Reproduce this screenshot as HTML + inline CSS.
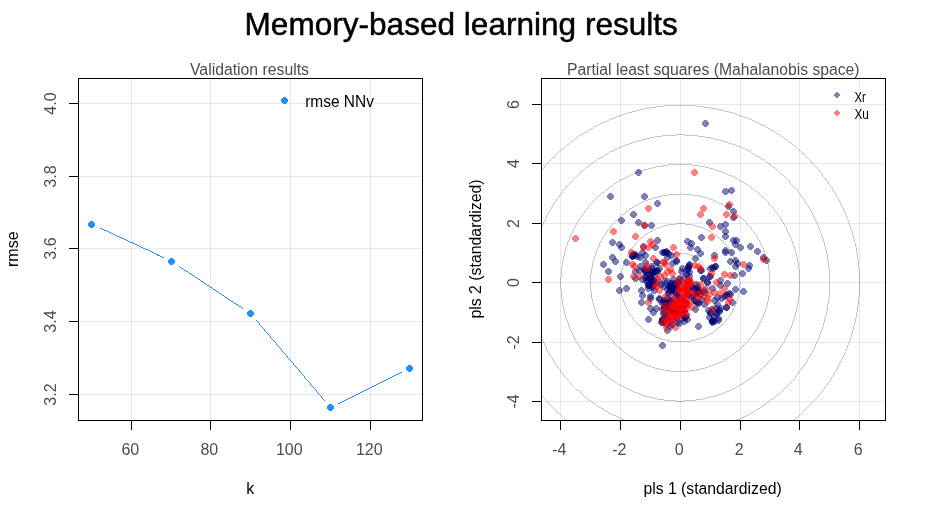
<!DOCTYPE html>
<html lang="en"><head><meta charset="utf-8"><title>Memory-based learning results</title>
<style>html,body{margin:0;padding:0;background:#fff;width:926px;height:518px;overflow:hidden}svg{display:block}text{font-family:"Liberation Sans",Arial,sans-serif}</style></head><body>
<svg width="926" height="518" viewBox="0 0 926 518">
<rect width="926" height="518" fill="#fff"/>
<defs><path id="d" d="M-1.5-3.5H1.5V-2.5H2.5V-1.5H3.5V1.5H2.5V2.5H1.5V3.5H-1.5V2.5H-2.5V1.5H-3.5V-1.5H-2.5V-2.5H-1.5Z"/><path id="e" d="M-1-3H1V-2H2V-1H3V1H2V2H1V3H-1V2H-2V1H-3V-1H-2V-2H-1Z"/></defs>
<text x="461.2" y="34.5" font-size="32" text-anchor="middle" fill="#000" stroke="#000" stroke-width="0.5" textLength="433.3" lengthAdjust="spacingAndGlyphs">Memory-based learning results</text>
<g shape-rendering="crispEdges" stroke-width="1" fill="none">
<line x1="131.5" y1="78.5" x2="131.5" y2="420.5" stroke="#000" stroke-opacity="0.085"/>
<line x1="210.5" y1="78.5" x2="210.5" y2="420.5" stroke="#000" stroke-opacity="0.085"/>
<line x1="290.5" y1="78.5" x2="290.5" y2="420.5" stroke="#000" stroke-opacity="0.085"/>
<line x1="370.5" y1="78.5" x2="370.5" y2="420.5" stroke="#000" stroke-opacity="0.085"/>
<line x1="78.5" y1="103.5" x2="422.5" y2="103.5" stroke="#000" stroke-opacity="0.085"/>
<line x1="78.5" y1="176.5" x2="422.5" y2="176.5" stroke="#000" stroke-opacity="0.085"/>
<line x1="78.5" y1="248.5" x2="422.5" y2="248.5" stroke="#000" stroke-opacity="0.085"/>
<line x1="78.5" y1="321.5" x2="422.5" y2="321.5" stroke="#000" stroke-opacity="0.085"/>
<line x1="78.5" y1="394.5" x2="422.5" y2="394.5" stroke="#000" stroke-opacity="0.085"/>
</g>
<line x1="99.5" y1="228.2" x2="163.5" y2="257.8" stroke="#1e90ff" stroke-width="0.99" shape-rendering="crispEdges"/>
<line x1="178.9" y1="266.3" x2="243.1" y2="308.7" stroke="#1e90ff" stroke-width="0.99" shape-rendering="crispEdges"/>
<line x1="256.2" y1="320.2" x2="324.8" y2="400.8" stroke="#1e90ff" stroke-width="0.99" shape-rendering="crispEdges"/>
<line x1="338.4" y1="403.6" x2="401.6" y2="372.4" stroke="#1e90ff" stroke-width="0.99" shape-rendering="crispEdges"/>
<use href="#d" x="91.5" y="224.5" fill="#1e90ff" shape-rendering="crispEdges"/>
<use href="#d" x="171.5" y="261.5" fill="#1e90ff" shape-rendering="crispEdges"/>
<use href="#d" x="250.5" y="313.5" fill="#1e90ff" shape-rendering="crispEdges"/>
<use href="#d" x="330.5" y="407.5" fill="#1e90ff" shape-rendering="crispEdges"/>
<use href="#d" x="409.5" y="368.5" fill="#1e90ff" shape-rendering="crispEdges"/>
<use href="#d" x="284.5" y="100.5" fill="#1e90ff" shape-rendering="crispEdges"/>
<text x="305.2" y="107" font-size="16" fill="#000" textLength="68.7" lengthAdjust="spacingAndGlyphs">rmse NNv</text>
<g shape-rendering="crispEdges" stroke="#000" stroke-width="1" fill="none">
<rect x="78.5" y="78.5" width="344.0" height="342.0"/>
<line x1="131.5" y1="420.5" x2="131.5" y2="429.5"/>
<line x1="210.5" y1="420.5" x2="210.5" y2="429.5"/>
<line x1="290.5" y1="420.5" x2="290.5" y2="429.5"/>
<line x1="370.5" y1="420.5" x2="370.5" y2="429.5"/>
<line x1="68.5" y1="103.5" x2="78.5" y2="103.5"/>
<line x1="68.5" y1="176.5" x2="78.5" y2="176.5"/>
<line x1="68.5" y1="248.5" x2="78.5" y2="248.5"/>
<line x1="68.5" y1="321.5" x2="78.5" y2="321.5"/>
<line x1="68.5" y1="394.5" x2="78.5" y2="394.5"/>
</g>
<text x="130.3" y="455" font-size="16" text-anchor="middle" fill="#4d4d4d">60</text>
<text x="209.3" y="455" font-size="16" text-anchor="middle" fill="#4d4d4d">80</text>
<text x="289.3" y="455" font-size="16" text-anchor="middle" fill="#4d4d4d">100</text>
<text x="369.3" y="455" font-size="16" text-anchor="middle" fill="#4d4d4d">120</text>
<text transform="translate(56,103.5) rotate(-90)" font-size="16" text-anchor="middle" fill="#4d4d4d">4.0</text>
<text transform="translate(56,176.5) rotate(-90)" font-size="16" text-anchor="middle" fill="#4d4d4d">3.8</text>
<text transform="translate(56,248.5) rotate(-90)" font-size="16" text-anchor="middle" fill="#4d4d4d">3.6</text>
<text transform="translate(56,321.5) rotate(-90)" font-size="16" text-anchor="middle" fill="#4d4d4d">3.4</text>
<text transform="translate(56,394.5) rotate(-90)" font-size="16" text-anchor="middle" fill="#4d4d4d">3.2</text>
<text x="249.5" y="75" font-size="16" text-anchor="middle" fill="#4d4d4d" textLength="119" lengthAdjust="spacingAndGlyphs">Validation results</text>
<text x="250.3" y="494" font-size="16" text-anchor="middle" fill="#000">k</text>
<text transform="translate(18.2,249.2) rotate(-90)" font-size="16" text-anchor="middle" fill="#000">rmse</text>
<clipPath id="c2"><rect x="541.5" y="78.5" width="344.0" height="342.0"/></clipPath>
<g shape-rendering="crispEdges" stroke-width="1" fill="none">
<line x1="560.5" y1="78.5" x2="560.5" y2="420.5" stroke="#000" stroke-opacity="0.085"/>
<line x1="620.5" y1="78.5" x2="620.5" y2="420.5" stroke="#000" stroke-opacity="0.085"/>
<line x1="680.5" y1="78.5" x2="680.5" y2="420.5" stroke="#000" stroke-opacity="0.085"/>
<line x1="740.5" y1="78.5" x2="740.5" y2="420.5" stroke="#000" stroke-opacity="0.085"/>
<line x1="799.5" y1="78.5" x2="799.5" y2="420.5" stroke="#000" stroke-opacity="0.085"/>
<line x1="859.5" y1="78.5" x2="859.5" y2="420.5" stroke="#000" stroke-opacity="0.085"/>
<line x1="541.5" y1="401.5" x2="885.5" y2="401.5" stroke="#000" stroke-opacity="0.085"/>
<line x1="541.5" y1="342.5" x2="885.5" y2="342.5" stroke="#000" stroke-opacity="0.085"/>
<line x1="541.5" y1="282.5" x2="885.5" y2="282.5" stroke="#000" stroke-opacity="0.085"/>
<line x1="541.5" y1="223.5" x2="885.5" y2="223.5" stroke="#000" stroke-opacity="0.085"/>
<line x1="541.5" y1="163.5" x2="885.5" y2="163.5" stroke="#000" stroke-opacity="0.085"/>
<line x1="541.5" y1="104.5" x2="885.5" y2="104.5" stroke="#000" stroke-opacity="0.085"/>
</g>
<g clip-path="url(#c2)">
<g fill="#000070" fill-opacity="0.5" shape-rendering="crispEdges">
<use href="#d" x="705.5" y="123.5"/>
<use href="#d" x="638.5" y="172.5"/>
<use href="#d" x="610.5" y="196.5"/>
<use href="#d" x="644.5" y="196.5"/>
<use href="#d" x="657.5" y="203.5"/>
<use href="#d" x="633.5" y="214.5"/>
<use href="#d" x="725.5" y="191.5"/>
<use href="#d" x="731.5" y="190.5"/>
<use href="#d" x="728.5" y="206.5"/>
<use href="#d" x="733.5" y="211.5"/>
<use href="#d" x="621.5" y="220.5"/>
<use href="#d" x="638.5" y="222.5"/>
<use href="#d" x="651.5" y="225.5"/>
<use href="#d" x="644.5" y="225.5"/>
<use href="#d" x="612.5" y="242.5"/>
<use href="#d" x="619.5" y="244.5"/>
<use href="#d" x="621.5" y="247.5"/>
<use href="#d" x="612.5" y="257.5"/>
<use href="#d" x="615.5" y="261.5"/>
<use href="#d" x="603.5" y="264.5"/>
<use href="#d" x="657.5" y="240.5"/>
<use href="#d" x="655.5" y="247.5"/>
<use href="#d" x="643.5" y="246.5"/>
<use href="#d" x="687.5" y="241.5"/>
<use href="#d" x="632.5" y="255.5"/>
<use href="#d" x="632.5" y="256.5"/>
<use href="#d" x="637.5" y="256.5"/>
<use href="#d" x="640.5" y="257.5"/>
<use href="#d" x="642.5" y="252.5"/>
<use href="#d" x="645.5" y="255.5"/>
<use href="#d" x="626.5" y="262.5"/>
<use href="#d" x="645.5" y="262.5"/>
<use href="#d" x="662.5" y="252.5"/>
<use href="#d" x="666.5" y="252.5"/>
<use href="#d" x="666.5" y="251.5"/>
<use href="#d" x="668.5" y="253.5"/>
<use href="#d" x="671.5" y="255.5"/>
<use href="#d" x="667.5" y="257.5"/>
<use href="#d" x="676.5" y="260.5"/>
<use href="#d" x="676.5" y="261.5"/>
<use href="#d" x="672.5" y="263.5"/>
<use href="#d" x="657.5" y="262.5"/>
<use href="#d" x="656.5" y="262.5"/>
<use href="#d" x="651.5" y="266.5"/>
<use href="#d" x="640.5" y="266.5"/>
<use href="#d" x="709.5" y="222.5"/>
<use href="#d" x="720.5" y="226.5"/>
<use href="#d" x="725.5" y="224.5"/>
<use href="#d" x="725.5" y="231.5"/>
<use href="#d" x="725.5" y="236.5"/>
<use href="#d" x="701.5" y="237.5"/>
<use href="#d" x="733.5" y="240.5"/>
<use href="#d" x="736.5" y="240.5"/>
<use href="#d" x="735.5" y="244.5"/>
<use href="#d" x="740.5" y="247.5"/>
<use href="#d" x="750.5" y="246.5"/>
<use href="#d" x="757.5" y="251.5"/>
<use href="#d" x="763.5" y="257.5"/>
<use href="#d" x="766.5" y="260.5"/>
<use href="#d" x="691.5" y="243.5"/>
<use href="#d" x="690.5" y="247.5"/>
<use href="#d" x="697.5" y="249.5"/>
<use href="#d" x="700.5" y="253.5"/>
<use href="#d" x="695.5" y="258.5"/>
<use href="#d" x="725.5" y="250.5"/>
<use href="#d" x="725.5" y="252.5"/>
<use href="#d" x="731.5" y="252.5"/>
<use href="#d" x="714.5" y="255.5"/>
<use href="#d" x="730.5" y="261.5"/>
<use href="#d" x="735.5" y="260.5"/>
<use href="#d" x="737.5" y="263.5"/>
<use href="#d" x="749.5" y="265.5"/>
<use href="#d" x="715.5" y="266.5"/>
<use href="#d" x="715.5" y="266.5"/>
<use href="#d" x="688.5" y="266.5"/>
<use href="#d" x="733.5" y="217.5"/>
<use href="#d" x="608.5" y="271.5"/>
<use href="#d" x="620.5" y="276.5"/>
<use href="#d" x="619.5" y="290.5"/>
<use href="#d" x="626.5" y="288.5"/>
<use href="#d" x="641.5" y="290.5"/>
<use href="#d" x="642.5" y="295.5"/>
<use href="#d" x="641.5" y="302.5"/>
<use href="#d" x="650.5" y="296.5"/>
<use href="#d" x="650.5" y="298.5"/>
<use href="#d" x="650.5" y="308.5"/>
<use href="#d" x="656.5" y="308.5"/>
<use href="#d" x="653.5" y="312.5"/>
<use href="#d" x="648.5" y="319.5"/>
<use href="#d" x="659.5" y="299.5"/>
<use href="#d" x="663.5" y="313.5"/>
<use href="#d" x="635.5" y="271.5"/>
<use href="#d" x="639.5" y="270.5"/>
<use href="#d" x="645.5" y="272.5"/>
<use href="#d" x="649.5" y="270.5"/>
<use href="#d" x="654.5" y="271.5"/>
<use href="#d" x="657.5" y="270.5"/>
<use href="#d" x="645.5" y="277.5"/>
<use href="#d" x="642.5" y="279.5"/>
<use href="#d" x="649.5" y="278.5"/>
<use href="#d" x="654.5" y="276.5"/>
<use href="#d" x="647.5" y="282.5"/>
<use href="#d" x="652.5" y="281.5"/>
<use href="#d" x="648.5" y="285.5"/>
<use href="#d" x="653.5" y="285.5"/>
<use href="#d" x="657.5" y="282.5"/>
<use href="#d" x="648.5" y="288.5"/>
<use href="#d" x="654.5" y="290.5"/>
<use href="#d" x="635.5" y="278.5"/>
<use href="#d" x="682.5" y="268.5"/>
<use href="#d" x="686.5" y="270.5"/>
<use href="#d" x="681.5" y="271.5"/>
<use href="#d" x="686.5" y="274.5"/>
<use href="#d" x="700.5" y="270.5"/>
<use href="#d" x="710.5" y="268.5"/>
<use href="#d" x="703.5" y="278.5"/>
<use href="#d" x="707.5" y="282.5"/>
<use href="#d" x="710.5" y="276.5"/>
<use href="#d" x="720.5" y="280.5"/>
<use href="#d" x="720.5" y="285.5"/>
<use href="#d" x="673.5" y="279.5"/>
<use href="#d" x="679.5" y="278.5"/>
<use href="#d" x="670.5" y="283.5"/>
<use href="#d" x="671.5" y="284.5"/>
<use href="#d" x="672.5" y="287.5"/>
<use href="#d" x="672.5" y="288.5"/>
<use href="#d" x="670.5" y="290.5"/>
<use href="#d" x="677.5" y="283.5"/>
<use href="#d" x="661.5" y="284.5"/>
<use href="#d" x="692.5" y="287.5"/>
<use href="#d" x="693.5" y="288.5"/>
<use href="#d" x="717.5" y="297.5"/>
<use href="#d" x="721.5" y="298.5"/>
<use href="#d" x="659.5" y="298.5"/>
<use href="#d" x="680.5" y="298.5"/>
<use href="#d" x="667.5" y="298.5"/>
<use href="#d" x="664.5" y="281.5"/>
<use href="#d" x="663.5" y="286.5"/>
<use href="#d" x="742.5" y="273.5"/>
<use href="#d" x="748.5" y="268.5"/>
<use href="#d" x="735.5" y="266.5"/>
<use href="#d" x="734.5" y="275.5"/>
<use href="#d" x="727.5" y="283.5"/>
<use href="#d" x="735.5" y="289.5"/>
<use href="#d" x="743.5" y="291.5"/>
<use href="#d" x="729.5" y="293.5"/>
<use href="#d" x="730.5" y="294.5"/>
<use href="#d" x="732.5" y="302.5"/>
<use href="#d" x="726.5" y="307.5"/>
<use href="#d" x="726.5" y="307.5"/>
<use href="#d" x="724.5" y="296.5"/>
<use href="#d" x="703.5" y="278.5"/>
<use href="#d" x="707.5" y="282.5"/>
<use href="#d" x="709.5" y="276.5"/>
<use href="#d" x="701.5" y="270.5"/>
<use href="#d" x="662.5" y="319.5"/>
<use href="#d" x="661.5" y="322.5"/>
<use href="#d" x="667.5" y="330.5"/>
<use href="#d" x="670.5" y="326.5"/>
<use href="#d" x="677.5" y="322.5"/>
<use href="#d" x="679.5" y="323.5"/>
<use href="#d" x="687.5" y="319.5"/>
<use href="#d" x="695.5" y="309.5"/>
<use href="#d" x="698.5" y="326.5"/>
<use href="#d" x="696.5" y="302.5"/>
<use href="#d" x="698.5" y="302.5"/>
<use href="#d" x="712.5" y="320.5"/>
<use href="#d" x="712.5" y="321.5"/>
<use href="#d" x="709.5" y="317.5"/>
<use href="#d" x="708.5" y="310.5"/>
<use href="#d" x="717.5" y="304.5"/>
<use href="#d" x="719.5" y="310.5"/>
<use href="#d" x="719.5" y="311.5"/>
<use href="#d" x="716.5" y="314.5"/>
<use href="#d" x="712.5" y="309.5"/>
<use href="#d" x="677.5" y="309.5"/>
<use href="#d" x="678.5" y="309.5"/>
<use href="#d" x="685.5" y="304.5"/>
<use href="#d" x="694.5" y="300.5"/>
<use href="#d" x="662.5" y="345.5"/>
<use href="#d" x="668.5" y="306.5"/>
<use href="#d" x="672.5" y="310.5"/>
<use href="#d" x="666.5" y="316.5"/>
<use href="#d" x="676.5" y="318.5"/>
<use href="#d" x="680.5" y="310.5"/>
<use href="#d" x="684.5" y="296.5"/>
<use href="#d" x="676.5" y="294.5"/>
<use href="#d" x="668.5" y="294.5"/>
<use href="#d" x="690.5" y="296.5"/>
<use href="#d" x="696.5" y="284.5"/>
<use href="#d" x="698.5" y="290.5"/>
<use href="#d" x="704.5" y="292.5"/>
<use href="#d" x="712.5" y="288.5"/>
<use href="#d" x="714.5" y="300.5"/>
<use href="#d" x="704.5" y="304.5"/>
<use href="#d" x="664.5" y="300.5"/>
<use href="#d" x="666.5" y="302.5"/>
<use href="#d" x="670.5" y="300.5"/>
<use href="#d" x="674.5" y="298.5"/>
<use href="#d" x="678.5" y="296.5"/>
<use href="#d" x="682.5" y="300.5"/>
<use href="#d" x="686.5" y="302.5"/>
<use href="#d" x="664.5" y="308.5"/>
<use href="#d" x="668.5" y="312.5"/>
<use href="#d" x="672.5" y="308.5"/>
<use href="#d" x="676.5" y="306.5"/>
<use href="#d" x="680.5" y="308.5"/>
<use href="#d" x="684.5" y="310.5"/>
<use href="#d" x="666.5" y="318.5"/>
<use href="#d" x="670.5" y="320.5"/>
<use href="#d" x="674.5" y="316.5"/>
<use href="#d" x="678.5" y="314.5"/>
<use href="#d" x="682.5" y="318.5"/>
<use href="#d" x="662.5" y="322.5"/>
<use href="#d" x="666.5" y="324.5"/>
<use href="#d" x="672.5" y="324.5"/>
<use href="#d" x="680.5" y="302.5"/>
<use href="#d" x="684.5" y="304.5"/>
<use href="#d" x="678.5" y="310.5"/>
<use href="#d" x="674.5" y="304.5"/>
<use href="#d" x="688.5" y="294.5"/>
<use href="#d" x="692.5" y="296.5"/>
<use href="#d" x="696.5" y="292.5"/>
<use href="#d" x="700.5" y="294.5"/>
<use href="#d" x="704.5" y="290.5"/>
<use href="#d" x="688.5" y="290.5"/>
<use href="#d" x="684.5" y="288.5"/>
<use href="#d" x="668.5" y="286.5"/>
<use href="#d" x="670.5" y="288.5"/>
<use href="#d" x="674.5" y="284.5"/>
<use href="#d" x="668.5" y="292.5"/>
<use href="#d" x="672.5" y="290.5"/>
<use href="#d" x="676.5" y="288.5"/>
<use href="#d" x="710.5" y="312.5"/>
<use href="#d" x="714.5" y="316.5"/>
<use href="#d" x="716.5" y="312.5"/>
<use href="#d" x="718.5" y="318.5"/>
<use href="#d" x="712.5" y="322.5"/>
<use href="#d" x="716.5" y="308.5"/>
<use href="#d" x="646.5" y="271.5"/>
<use href="#d" x="651.5" y="272.5"/>
<use href="#d" x="655.5" y="271.5"/>
<use href="#d" x="650.5" y="276.5"/>
<use href="#d" x="646.5" y="280.5"/>
<use href="#d" x="653.5" y="280.5"/>
<use href="#d" x="632.5" y="256.5"/>
<use href="#d" x="633.5" y="254.5"/>
<use href="#d" x="635.5" y="254.5"/>
<use href="#d" x="634.5" y="255.5"/>
<use href="#d" x="664.5" y="252.5"/>
<use href="#d" x="664.5" y="252.5"/>
<use href="#d" x="644.5" y="269.5"/>
<use href="#d" x="650.5" y="278.5"/>
<use href="#d" x="645.5" y="270.5"/>
<use href="#d" x="653.5" y="280.5"/>
<use href="#d" x="652.5" y="273.5"/>
<use href="#d" x="659.5" y="268.5"/>
<use href="#d" x="657.5" y="271.5"/>
<use href="#d" x="645.5" y="269.5"/>
<use href="#d" x="648.5" y="278.5"/>
<use href="#d" x="646.5" y="275.5"/>
<use href="#d" x="653.5" y="272.5"/>
<use href="#d" x="652.5" y="268.5"/>
<use href="#d" x="667.5" y="281.5"/>
<use href="#d" x="676.5" y="285.5"/>
<use href="#d" x="671.5" y="287.5"/>
<use href="#d" x="673.5" y="283.5"/>
<use href="#d" x="678.5" y="289.5"/>
<use href="#d" x="670.5" y="287.5"/>
<use href="#d" x="674.5" y="292.5"/>
<use href="#d" x="677.5" y="282.5"/>
<use href="#d" x="680.5" y="280.5"/>
<use href="#d" x="672.5" y="290.5"/>
<use href="#d" x="669.5" y="286.5"/>
<use href="#d" x="667.5" y="289.5"/>
<use href="#d" x="677.5" y="287.5"/>
<use href="#d" x="679.5" y="283.5"/>
<use href="#d" x="676.5" y="288.5"/>
<use href="#d" x="675.5" y="285.5"/>
<use href="#d" x="678.5" y="294.5"/>
<use href="#d" x="673.5" y="289.5"/>
<use href="#d" x="648.5" y="285.5"/>
<use href="#d" x="652.5" y="287.5"/>
<use href="#d" x="653.5" y="282.5"/>
<use href="#d" x="650.5" y="285.5"/>
<use href="#d" x="688.5" y="267.5"/>
<use href="#d" x="689.5" y="264.5"/>
<use href="#d" x="688.5" y="269.5"/>
<use href="#d" x="689.5" y="265.5"/>
<use href="#d" x="713.5" y="268.5"/>
<use href="#d" x="712.5" y="267.5"/>
<use href="#d" x="714.5" y="321.5"/>
<use href="#d" x="718.5" y="320.5"/>
<use href="#d" x="710.5" y="313.5"/>
<use href="#d" x="712.5" y="321.5"/>
<use href="#d" x="720.5" y="308.5"/>
<use href="#d" x="726.5" y="294.5"/>
<use href="#d" x="726.5" y="295.5"/>
<use href="#d" x="677.5" y="305.5"/>
<use href="#d" x="662.5" y="309.5"/>
<use href="#d" x="671.5" y="312.5"/>
<use href="#d" x="686.5" y="315.5"/>
<use href="#d" x="675.5" y="313.5"/>
<use href="#d" x="679.5" y="301.5"/>
<use href="#d" x="685.5" y="317.5"/>
<use href="#d" x="684.5" y="317.5"/>
<use href="#d" x="672.5" y="308.5"/>
<use href="#d" x="664.5" y="313.5"/>
<use href="#d" x="663.5" y="301.5"/>
<use href="#d" x="667.5" y="303.5"/>
<use href="#d" x="670.5" y="301.5"/>
<use href="#d" x="662.5" y="303.5"/>
<use href="#d" x="664.5" y="307.5"/>
<use href="#d" x="662.5" y="319.5"/>
<use href="#d" x="677.5" y="303.5"/>
<use href="#d" x="668.5" y="307.5"/>
<use href="#d" x="671.5" y="302.5"/>
<use href="#d" x="684.5" y="321.5"/>
<use href="#d" x="674.5" y="310.5"/>
<use href="#d" x="664.5" y="302.5"/>
<use href="#d" x="670.5" y="305.5"/>
<use href="#d" x="683.5" y="303.5"/>
<use href="#d" x="662.5" y="320.5"/>
<use href="#d" x="698.5" y="292.5"/>
<use href="#d" x="698.5" y="290.5"/>
<use href="#d" x="698.5" y="303.5"/>
<use href="#d" x="701.5" y="299.5"/>
<use href="#d" x="695.5" y="295.5"/>
<use href="#d" x="694.5" y="300.5"/>
<use href="#d" x="692.5" y="287.5"/>
<use href="#d" x="689.5" y="276.5"/>
<use href="#d" x="696.5" y="291.5"/>
<use href="#d" x="697.5" y="288.5"/>
<use href="#d" x="697.5" y="286.5"/>
<use href="#d" x="687.5" y="282.5"/>
<use href="#d" x="689.5" y="272.5"/>
<use href="#d" x="684.5" y="277.5"/>
</g><g fill="#ff0000" fill-opacity="0.5" shape-rendering="crispEdges">
<use href="#d" x="694.5" y="172.5"/>
<use href="#d" x="648.5" y="208.5"/>
<use href="#d" x="729.5" y="204.5"/>
<use href="#d" x="703.5" y="208.5"/>
<use href="#d" x="700.5" y="214.5"/>
<use href="#d" x="726.5" y="214.5"/>
<use href="#d" x="644.5" y="225.5"/>
<use href="#d" x="613.5" y="231.5"/>
<use href="#d" x="575.5" y="238.5"/>
<use href="#d" x="635.5" y="236.5"/>
<use href="#d" x="650.5" y="241.5"/>
<use href="#d" x="652.5" y="244.5"/>
<use href="#d" x="643.5" y="247.5"/>
<use href="#d" x="648.5" y="247.5"/>
<use href="#d" x="673.5" y="247.5"/>
<use href="#d" x="676.5" y="254.5"/>
<use href="#d" x="631.5" y="252.5"/>
<use href="#d" x="653.5" y="258.5"/>
<use href="#d" x="632.5" y="264.5"/>
<use href="#d" x="634.5" y="266.5"/>
<use href="#d" x="663.5" y="262.5"/>
<use href="#d" x="664.5" y="262.5"/>
<use href="#d" x="665.5" y="264.5"/>
<use href="#d" x="646.5" y="265.5"/>
<use href="#d" x="734.5" y="216.5"/>
<use href="#d" x="712.5" y="226.5"/>
<use href="#d" x="711.5" y="237.5"/>
<use href="#d" x="714.5" y="258.5"/>
<use href="#d" x="763.5" y="259.5"/>
<use href="#d" x="743.5" y="264.5"/>
<use href="#d" x="694.5" y="265.5"/>
<use href="#d" x="698.5" y="266.5"/>
<use href="#d" x="608.5" y="279.5"/>
<use href="#d" x="633.5" y="276.5"/>
<use href="#d" x="639.5" y="276.5"/>
<use href="#d" x="646.5" y="268.5"/>
<use href="#d" x="648.5" y="302.5"/>
<use href="#d" x="655.5" y="285.5"/>
<use href="#d" x="670.5" y="269.5"/>
<use href="#d" x="672.5" y="273.5"/>
<use href="#d" x="664.5" y="275.5"/>
<use href="#d" x="660.5" y="276.5"/>
<use href="#d" x="667.5" y="271.5"/>
<use href="#d" x="657.5" y="279.5"/>
<use href="#d" x="700.5" y="268.5"/>
<use href="#d" x="711.5" y="273.5"/>
<use href="#d" x="724.5" y="274.5"/>
<use href="#d" x="716.5" y="282.5"/>
<use href="#d" x="700.5" y="284.5"/>
<use href="#d" x="688.5" y="279.5"/>
<use href="#d" x="689.5" y="280.5"/>
<use href="#d" x="691.5" y="282.5"/>
<use href="#d" x="684.5" y="283.5"/>
<use href="#d" x="685.5" y="284.5"/>
<use href="#d" x="687.5" y="286.5"/>
<use href="#d" x="678.5" y="290.5"/>
<use href="#d" x="682.5" y="292.5"/>
<use href="#d" x="686.5" y="293.5"/>
<use href="#d" x="693.5" y="292.5"/>
<use href="#d" x="697.5" y="294.5"/>
<use href="#d" x="701.5" y="291.5"/>
<use href="#d" x="705.5" y="288.5"/>
<use href="#d" x="703.5" y="296.5"/>
<use href="#d" x="707.5" y="298.5"/>
<use href="#d" x="709.5" y="294.5"/>
<use href="#d" x="714.5" y="292.5"/>
<use href="#d" x="720.5" y="293.5"/>
<use href="#d" x="724.5" y="288.5"/>
<use href="#d" x="656.5" y="286.5"/>
<use href="#d" x="659.5" y="290.5"/>
<use href="#d" x="665.5" y="296.5"/>
<use href="#d" x="673.5" y="297.5"/>
<use href="#d" x="686.5" y="298.5"/>
<use href="#d" x="697.5" y="298.5"/>
<use href="#d" x="730.5" y="275.5"/>
<use href="#d" x="729.5" y="298.5"/>
<use href="#d" x="728.5" y="302.5"/>
<use href="#d" x="712.5" y="309.5"/>
<use href="#d" x="707.5" y="301.5"/>
<use href="#d" x="691.5" y="306.5"/>
<use href="#d" x="686.5" y="314.5"/>
<use href="#d" x="675.5" y="327.5"/>
<use href="#d" x="666.5" y="327.5"/>
<use href="#d" x="664.5" y="305.5"/>
<use href="#d" x="670.5" y="304.5"/>
<use href="#d" x="675.5" y="303.5"/>
<use href="#d" x="679.5" y="304.5"/>
<use href="#d" x="685.5" y="302.5"/>
<use href="#d" x="688.5" y="304.5"/>
<use href="#d" x="670.5" y="309.5"/>
<use href="#d" x="674.5" y="307.5"/>
<use href="#d" x="682.5" y="309.5"/>
<use href="#d" x="670.5" y="313.5"/>
<use href="#d" x="674.5" y="313.5"/>
<use href="#d" x="679.5" y="314.5"/>
<use href="#d" x="682.5" y="313.5"/>
<use href="#d" x="664.5" y="319.5"/>
<use href="#d" x="668.5" y="319.5"/>
<use href="#d" x="673.5" y="317.5"/>
<use href="#d" x="676.5" y="316.5"/>
<use href="#d" x="663.5" y="322.5"/>
<use href="#d" x="667.5" y="321.5"/>
<use href="#d" x="672.5" y="304.5"/>
<use href="#d" x="676.5" y="306.5"/>
<use href="#d" x="680.5" y="302.5"/>
<use href="#d" x="672.5" y="310.5"/>
<use href="#d" x="678.5" y="312.5"/>
<use href="#d" x="668.5" y="316.5"/>
<use href="#d" x="672.5" y="320.5"/>
<use href="#d" x="680.5" y="300.5"/>
<use href="#d" x="676.5" y="300.5"/>
<use href="#d" x="684.5" y="306.5"/>
<use href="#d" x="688.5" y="300.5"/>
<use href="#d" x="682.5" y="296.5"/>
<use href="#d" x="686.5" y="290.5"/>
<use href="#d" x="680.5" y="286.5"/>
<use href="#d" x="690.5" y="284.5"/>
<use href="#d" x="680.5" y="314.5"/>
<use href="#d" x="680.5" y="303.5"/>
<use href="#d" x="687.5" y="292.5"/>
<use href="#d" x="680.5" y="303.5"/>
<use href="#d" x="679.5" y="310.5"/>
<use href="#d" x="679.5" y="309.5"/>
<use href="#d" x="664.5" y="311.5"/>
<use href="#d" x="676.5" y="303.5"/>
<use href="#d" x="666.5" y="309.5"/>
<use href="#d" x="685.5" y="305.5"/>
<use href="#d" x="681.5" y="299.5"/>
<use href="#d" x="673.5" y="305.5"/>
<use href="#d" x="684.5" y="310.5"/>
<use href="#d" x="676.5" y="318.5"/>
<use href="#d" x="680.5" y="303.5"/>
<use href="#d" x="670.5" y="322.5"/>
<use href="#d" x="674.5" y="307.5"/>
<use href="#d" x="679.5" y="308.5"/>
<use href="#d" x="681.5" y="298.5"/>
<use href="#d" x="686.5" y="308.5"/>
<use href="#d" x="683.5" y="301.5"/>
<use href="#d" x="675.5" y="315.5"/>
<use href="#d" x="686.5" y="285.5"/>
<use href="#d" x="690.5" y="283.5"/>
<use href="#d" x="677.5" y="283.5"/>
<use href="#d" x="679.5" y="289.5"/>
<use href="#d" x="687.5" y="281.5"/>
<use href="#d" x="685.5" y="289.5"/>
<use href="#d" x="686.5" y="291.5"/>
<use href="#d" x="685.5" y="290.5"/>
<use href="#d" x="691.5" y="293.5"/>
<use href="#d" x="683.5" y="289.5"/>
<use href="#d" x="679.5" y="279.5"/>
<use href="#d" x="679.5" y="290.5"/>
</g>
<ellipse cx="680.3" cy="282.8" rx="29.9" ry="29.6" fill="none" stroke="#000" stroke-opacity="0.23" stroke-width="0.99" shape-rendering="crispEdges"/>
<ellipse cx="680.3" cy="282.8" rx="59.8" ry="59.2" fill="none" stroke="#000" stroke-opacity="0.23" stroke-width="0.99" shape-rendering="crispEdges"/>
<ellipse cx="680.3" cy="282.8" rx="89.7" ry="88.8" fill="none" stroke="#000" stroke-opacity="0.23" stroke-width="0.99" shape-rendering="crispEdges"/>
<ellipse cx="680.3" cy="282.8" rx="119.6" ry="118.4" fill="none" stroke="#000" stroke-opacity="0.23" stroke-width="0.99" shape-rendering="crispEdges"/>
<ellipse cx="680.3" cy="282.8" rx="149.5" ry="148.0" fill="none" stroke="#000" stroke-opacity="0.23" stroke-width="0.99" shape-rendering="crispEdges"/>
<ellipse cx="680.3" cy="282.8" rx="179.4" ry="177.6" fill="none" stroke="#000" stroke-opacity="0.23" stroke-width="0.99" shape-rendering="crispEdges"/>
</g>
<use href="#e" x="837" y="95" fill="#000070" fill-opacity="0.5" shape-rendering="crispEdges"/>
<use href="#e" x="837" y="113" fill="#ff0000" fill-opacity="0.5" shape-rendering="crispEdges"/>
<text x="854.5" y="102" font-size="14.2" fill="#000" textLength="11.4" lengthAdjust="spacingAndGlyphs">Xr</text>
<text x="854.5" y="119" font-size="14.2" fill="#000" textLength="14.4" lengthAdjust="spacingAndGlyphs">Xu</text>
<g shape-rendering="crispEdges" stroke="#000" stroke-width="1" fill="none">
<rect x="541.5" y="78.5" width="344.0" height="342.0"/>
<line x1="560.5" y1="420.5" x2="560.5" y2="429.5"/>
<line x1="531.5" y1="401.5" x2="541.5" y2="401.5"/>
<line x1="620.5" y1="420.5" x2="620.5" y2="429.5"/>
<line x1="531.5" y1="342.5" x2="541.5" y2="342.5"/>
<line x1="680.5" y1="420.5" x2="680.5" y2="429.5"/>
<line x1="531.5" y1="282.5" x2="541.5" y2="282.5"/>
<line x1="740.5" y1="420.5" x2="740.5" y2="429.5"/>
<line x1="531.5" y1="223.5" x2="541.5" y2="223.5"/>
<line x1="799.5" y1="420.5" x2="799.5" y2="429.5"/>
<line x1="531.5" y1="163.5" x2="541.5" y2="163.5"/>
<line x1="859.5" y1="420.5" x2="859.5" y2="429.5"/>
<line x1="531.5" y1="104.5" x2="541.5" y2="104.5"/>
</g>
<text x="559.3" y="455" font-size="16" text-anchor="middle" fill="#4d4d4d">-4</text>
<text transform="translate(518.8,401.5) rotate(-90)" font-size="16" text-anchor="middle" fill="#4d4d4d">-4</text>
<text x="619.3" y="455" font-size="16" text-anchor="middle" fill="#4d4d4d">-2</text>
<text transform="translate(518.8,342.5) rotate(-90)" font-size="16" text-anchor="middle" fill="#4d4d4d">-2</text>
<text x="679.3" y="455" font-size="16" text-anchor="middle" fill="#4d4d4d">0</text>
<text transform="translate(518.8,282.5) rotate(-90)" font-size="16" text-anchor="middle" fill="#4d4d4d">0</text>
<text x="739.3" y="455" font-size="16" text-anchor="middle" fill="#4d4d4d">2</text>
<text transform="translate(518.8,223.5) rotate(-90)" font-size="16" text-anchor="middle" fill="#4d4d4d">2</text>
<text x="798.3" y="455" font-size="16" text-anchor="middle" fill="#4d4d4d">4</text>
<text transform="translate(518.8,163.5) rotate(-90)" font-size="16" text-anchor="middle" fill="#4d4d4d">4</text>
<text x="858.3" y="455" font-size="16" text-anchor="middle" fill="#4d4d4d">6</text>
<text transform="translate(518.8,104.5) rotate(-90)" font-size="16" text-anchor="middle" fill="#4d4d4d">6</text>
<text x="713.3" y="75" font-size="16" text-anchor="middle" fill="#4d4d4d" textLength="292.6" lengthAdjust="spacingAndGlyphs">Partial least squares (Mahalanobis space)</text>
<text x="712.6" y="494" font-size="16" text-anchor="middle" fill="#000" textLength="138.3" lengthAdjust="spacingAndGlyphs">pls 1 (standardized)</text>
<text transform="translate(481.2,249) rotate(-90)" font-size="16" text-anchor="middle" fill="#000" textLength="139.1" lengthAdjust="spacingAndGlyphs">pls 2 (standardized)</text>
</svg></body></html>
